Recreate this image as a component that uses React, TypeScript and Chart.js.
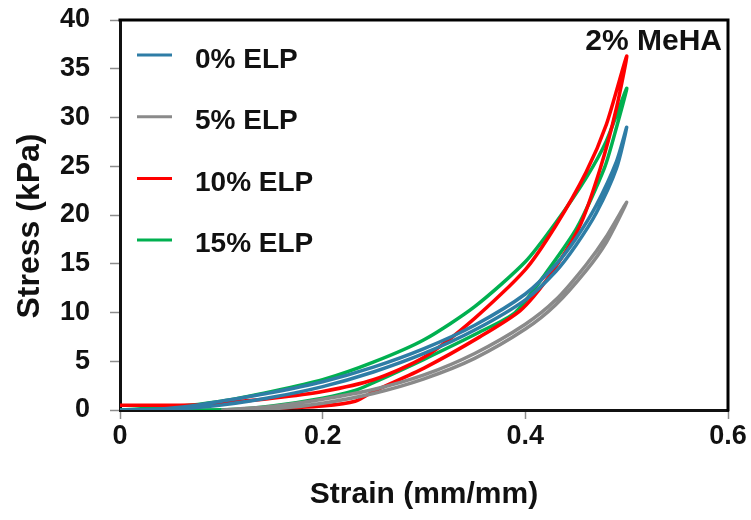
import React, { useEffect, useRef } from 'react';
import { Chart, registerables } from 'chart.js';
Chart.register(...registerables);

const seriesLabels = ['0% ELP', '5% ELP', '10% ELP', '15% ELP'];
const seriesColors = ['#2e7da6', '#8a8a8a', '#ff0000', '#00b050'];
const chartTitle = '2% MeHA';
const xAxisTitle = 'Strain (mm/mm)';
const yAxisTitle = 'Stress (kPa)';
const xTickValues = [0, 0.2, 0.4, 0.6];
const yTickValues = [0, 5, 10, 15, 20, 25, 30, 35, 40];

// 0% ELP: loading then unloading
const strain0 = [0, 0.04, 0.07, 0.1, 0.15, 0.2, 0.25, 0.3, 0.35, 0.4, 0.43, 0.45, 0.47, 0.49, 0.5,
  0.49, 0.47, 0.45, 0.43, 0.4, 0.35, 0.3, 0.25, 0.2, 0.15, 0.1, 0.07, 0.04, 0];
const stress0 = [0, 0.1, 0.4, 0.9, 1.8, 2.9, 4.4, 6.3, 8.7, 11.9, 14.9, 17.6, 21.0, 25.5, 29.0,
  24.8, 20.2, 16.9, 14.2, 11.3, 8.2, 5.8, 3.9, 2.4, 1.3, 0.5, 0.2, 0.05, 0];

// 5% ELP
const strain5 = [0.1, 0.13, 0.16, 0.2, 0.25, 0.3, 0.35, 0.4, 0.43, 0.46, 0.48, 0.5,
  0.48, 0.46, 0.43, 0.4, 0.35, 0.3, 0.25, 0.2, 0.16, 0.12];
const stress5 = [0, 0.2, 0.5, 1.1, 2.1, 3.6, 5.8, 8.8, 11.3, 14.9, 17.8, 21.3,
  17.2, 14.3, 10.8, 8.3, 5.3, 3.2, 1.7, 0.7, 0.2, 0];

// 10% ELP
const strain10 = [0, 0.05, 0.08, 0.1, 0.15, 0.2, 0.25, 0.3, 0.35, 0.4, 0.43, 0.46, 0.48, 0.5,
  0.49, 0.474, 0.453, 0.42, 0.395, 0.355, 0.3, 0.25, 0.232, 0.2, 0.17, 0.15];
const stress10 = [0.5, 0.5, 0.55, 0.7, 1.2, 1.9, 3.1, 5.4, 9.4, 14.4, 18.9, 24.4, 29.3, 36.3,
  31.0, 24.8, 18.7, 13.2, 10.2, 7.5, 4.3, 1.9, 0.9, 0.4, 0.25, 0.2];

// 15% ELP
const strain15 = [0, 0.05, 0.1, 0.15, 0.2, 0.25, 0.3, 0.35, 0.4, 0.43, 0.46, 0.48, 0.5,
  0.49, 0.478, 0.451, 0.42, 0.39, 0.355, 0.3, 0.25, 0.232, 0.2, 0.15, 0.11, 0.05, 0];
const stress15 = [0, 0.3, 0.9, 1.9, 3.1, 4.9, 7.2, 10.6, 15.2, 19.2, 23.8, 27.6, 33.0,
  29.0, 24.8, 18.7, 14.0, 10.0, 8.0, 5.2, 2.8, 2.0, 1.2, 0.4, 0.05, 0, 0];

const strainSeries = [strain0, strain5, strain10, strain15];
const stressSeries = [stress0, stress5, stress10, stress15];

const FONT = '"Liberation Sans", Arial, sans-serif';

const overlayPlugin = {
  id: 'overlay',
  afterDraw(chart: any) {
    const { ctx, chartArea } = chart;
    ctx.save();
    // top and right frame
    ctx.strokeStyle = '#000';
    ctx.lineWidth = 3;
    ctx.beginPath();
    ctx.moveTo(chartArea.left - 1.5, chartArea.top);
    ctx.lineTo(chartArea.right, chartArea.top);
    ctx.lineTo(chartArea.right, chartArea.bottom + 1.5);
    ctx.stroke();
    // legend
    ctx.font = `bold 28px ${FONT}`;
    ctx.textAlign = 'left';
    ctx.textBaseline = 'middle';
    chart.data.datasets.forEach((ds: any, i: number) => {
      const yLine = 55 + i * 61.7;
      ctx.strokeStyle = ds.borderColor;
      ctx.lineWidth = 3;
      ctx.beginPath();
      ctx.moveTo(137, yLine);
      ctx.lineTo(172, yLine);
      ctx.stroke();
      ctx.fillStyle = '#111';
      ctx.fillText(ds.label, 195, 60 + i * 61.5);
    });
    // title
    ctx.font = `bold 30px ${FONT}`;
    ctx.textAlign = 'right';
    ctx.textBaseline = 'alphabetic';
    ctx.fillStyle = '#111';
    ctx.fillText(chartTitle, 722, 50);
    // y axis title
    ctx.translate(30, 226);
    ctx.rotate(-Math.PI / 2);
    ctx.font = `bold 32px ${FONT}`;
    ctx.textAlign = 'center';
    ctx.textBaseline = 'middle';
    ctx.fillText(yAxisTitle, 0, 0);
    ctx.restore();
  },
};

export default function App() {
  const canvasRef = useRef<HTMLCanvasElement | null>(null);

  useEffect(() => {
    document.body.style.margin = '0';
    const canvas = canvasRef.current;
    if (!canvas) return;
    const datasets = seriesLabels.map((label, i) => ({
      label,
      data: strainSeries[i].map((x, j) => ({ x, y: stressSeries[i][j] })),
      borderColor: seriesColors[i],
      backgroundColor: seriesColors[i],
      borderWidth: 3.5,
      pointRadius: 0,
      showLine: true,
      tension: 0.25,
      fill: false,
    }));
    const chart = new Chart(canvas, {
      type: 'scatter',
      data: { datasets },
      options: {
        responsive: false,
        animation: false,
        layout: { padding: { top: 20, right: 23, left: 0, bottom: 0 } },
        plugins: { legend: { display: false }, tooltip: { enabled: false } },
        scales: {
          x: {
            type: 'linear',
            min: 0,
            max: 0.6,
            afterFit: (s: any) => { s.height = 110; },
            afterBuildTicks: (s: any) => { s.ticks = xTickValues.map((v) => ({ value: v })); },
            ticks: {
              callback: (v: any) => String(Number(Number(v).toFixed(1))),
              color: '#111',
              font: { family: FONT, size: 27, weight: 'bold' },
              padding: 1,
            },
            grid: { drawOnChartArea: false, drawTicks: true, tickLength: 9, tickColor: '#8c8c8c', tickWidth: 1.5 },
            border: { color: '#111', width: 3 },
            title: {
              display: true,
              text: xAxisTitle,
              color: '#111',
              font: { family: FONT, size: 30, weight: 'bold' },
              padding: { top: 0, bottom: 7 },
            },
          },
          y: {
            type: 'linear',
            min: 0,
            max: 40,
            afterFit: (s: any) => { s.width = 120; s.paddingTop = 0; s.paddingBottom = 0; },
            afterBuildTicks: (s: any) => { s.ticks = yTickValues.map((v) => ({ value: v })); },
            ticks: {
              color: '#111',
              font: { family: FONT, size: 27, weight: 'bold' },
              padding: 20,
            },
            grid: { drawOnChartArea: false, drawTicks: true, tickLength: 10, tickColor: '#8c8c8c', tickWidth: 1.5 },
            border: { color: '#111', width: 3 },
            title: { display: false, text: yAxisTitle },
          },
        },
      },
      plugins: [overlayPlugin],
    } as any);
    return () => chart.destroy();
  }, []);

  return (
    <div style={{ width: 751, height: 520 }}>
      <canvas ref={canvasRef} width={751} height={520} />
    </div>
  );
}
